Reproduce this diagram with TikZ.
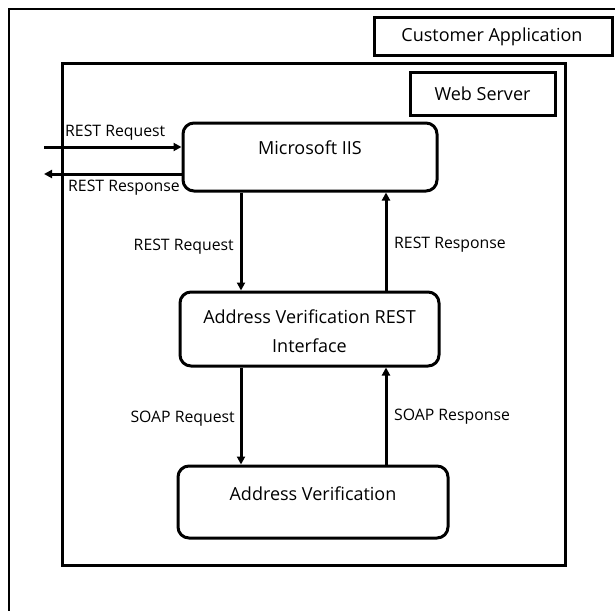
\documentclass[tikz,border=0pt]{standalone}
\usepackage{fontspec}
\setmainfont{Open Sans}
\usetikzlibrary{arrows.meta}
\begin{document}
\begin{tikzpicture}[x=1pt,y=-1pt,
  box/.style={draw=black,line width=3pt,inner sep=0pt},
  rbox/.style={draw=black,line width=3pt,rounded corners=11pt,inner sep=0pt},
  maintext/.style={font=\fontsize{18}{29}\selectfont,inner sep=0pt,align=center},
  lbl/.style={font=\fontsize{15.8}{17}\selectfont,inner sep=0pt},
  flow/.style={line width=3pt,-{Triangle[length=8pt,width=8pt]}}]
\useasboundingbox (0,0) rectangle (615,610);
\begin{scope}
\clip (0,0) rectangle (615,610);
\draw[line width=2.6pt] (9,9) rectangle (640,640);
\end{scope}
% Customer application label box
\node[box,minimum width=238pt,minimum height=38pt] (cust) at (493,37) {};
\node[maintext] (custt) at (492,37) {Customer Application};
% Web server
\node[box,minimum width=503pt,minimum height=502pt] (ws) at (313.5,314) {};
\node[box,minimum width=145pt,minimum height=43pt] (wsl) at (482.5,93.5) {};
\node[maintext] (wslt) at (482.5,94) {Web Server};
% Boxes
\node[rbox,minimum width=254pt,minimum height=68pt] (iis) at (310,157) {};
\node[maintext] (iist) at (310,148) {Microsoft IIS};
\node[rbox,minimum width=259pt,minimum height=74pt] (avri) at (309.5,329) {};
\node[maintext] (avrit) at (309.5,331) {Address Verification REST\\Interface};
\node[rbox,minimum width=270pt,minimum height=72pt] (av) at (313,502) {};
\node[maintext] (avt) at (313,494) {Address Verification};
% external
\coordinate (inS) at (44,147);
\coordinate (outE) at (44,174);
\draw[flow] (inS) -- (inS -| iis.west);
\draw[flow] (outE -| iis.west) -- (outE);
\node[lbl,anchor=west] (l1) at (65,133) {REST Request};
\node[lbl,anchor=west] (l2) at (68,188) {REST Response};
% vertical
\draw[flow] (iis.south -| 241,0) -- (avri.north -| 241,0);
\draw[flow] (avri.north -| 386,0) -- (iis.south -| 386,0);
\draw[flow] (avri.south -| 241,0) -- (av.north -| 241,0);
\draw[flow] (av.north -| 386,0) -- (avri.south -| 386,0);
\node[lbl,anchor=east] (l3) at (234,247) {REST Request};
\node[lbl,anchor=west] (l4) at (394,245) {REST Response};
\node[lbl,anchor=east] (l5) at (235,419) {SOAP Request};
\node[lbl,anchor=west] (l6) at (394,417) {SOAP Response};
\end{tikzpicture}
\end{document}
